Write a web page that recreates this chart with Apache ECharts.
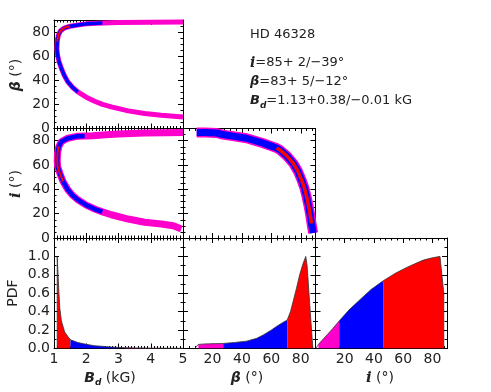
<!DOCTYPE html>
<html><head><meta charset="utf-8">
<script src="https://cdn.jsdelivr.net/npm/echarts/dist/echarts.min.js"></script>
<style>html,body{margin:0;padding:0;background:#fff}#c{width:491px;height:392px}</style>
</head><body><div id="c"></div>
<script>
// ---------------- data ----------------
// beta vs B_d curve (upper branch from B=5 to the tip, then lower branch back to B=5)
const betaBdX = [5.0,4.0,3.0,2.5,2.0,1.74,1.5,1.33,1.2,1.13,1.10,1.09,1.11,1.15,1.23,1.32,1.43,1.58,1.74,2.0,2.26,2.5,2.78,3.3,3.81,4.33,5.0];
const betaBdY = [88.3,88.2,88.0,87.6,86.8,85.8,84.8,83.5,81.0,77.0,72.0,66.0,61.0,56.0,49.7,44.0,38.6,34.0,30.3,26.0,22.6,20.0,17.9,14.6,12.4,11.0,9.6];
const betaBdBlue = [3,18], betaBdRed = [6,10];

// i vs B_d curve
const incBdX = [5.0,4.5,3.8,3.0,2.6,2.2,1.95,1.74,1.43,1.23,1.15,1.11,1.10,1.11,1.18,1.28,1.43,1.58,1.74,2.0,2.26,2.5,2.78,3.3,3.81,4.33,4.7,4.95];
const incBdY = [86.7,86.5,86.3,85.5,84.8,84.0,83.8,83.7,82.0,79.3,75.2,70.0,64.0,59.0,53.3,46.5,39.6,35.0,31.4,27.0,23.8,21.5,19.1,15.6,12.9,11.5,10.0,7.4];
const incBdBlue = [6,21], incBdRed = [10,15];

// i vs beta curve
const incBetaX = [9.3,15,22.9,27,35,43.2,50,54.5,60,63.5,65.8,70.5,74.8,78,80.5,82.5,83.9,85.2,86.2,87.3,88.4];
const incBetaY = [86.7,86.7,86.3,85,83.5,82,79.5,77.9,75.5,74,72.4,67.5,61.5,55,47.8,41,34.2,27,20.5,12,4.1];
const incBetaBlue = [0,20], incBetaRed = [9,19];

// marginal PDFs
const pdfBdX = [1.10,1.10,1.12,1.15,1.18,1.23,1.33,1.43,1.51,1.74,2.0,2.26,2.78,3.2,4.0,5.0];
const pdfBdY = [0,1.0,1.0,0.62,0.44,0.30,0.18,0.13,0.095,0.065,0.045,0.03,0.016,0.009,0.004,0.002];
const pdfBdRed = [0,8], pdfBdBlue = [8,13], pdfBdMag = [13,15];

const pdfBetaX = [8.0,10.4,15,20,27.3,35,43.2,50,54.5,60,63.5,67,70.8,73,74.8,77,79.4,81.5,83.4,84.3,86,88.2];
const pdfBetaY = [0,0.044,0.05,0.052,0.055,0.065,0.08,0.11,0.147,0.2,0.24,0.275,0.31,0.40,0.51,0.65,0.81,0.92,1.0,0.9,0.5,0];
const pdfBetaMag = [1,4], pdfBetaBlue = [4,12], pdfBetaRed = [12,21];

const pdfIncX = [0.3,2.0,8,12,16.2,23,30.4,38,46.3,55,62.4,68,73.8,80,85.2,86.5,87.8,87.8];
const pdfIncY = [0,0.045,0.15,0.22,0.30,0.42,0.53,0.64,0.735,0.82,0.88,0.92,0.96,0.985,1.0,0.8,0.6,0];
const pdfIncMag = [1,4], pdfIncBlue = [4,8], pdfIncRed = [8,17];

// tick labels
const bdTickLabels = ['1','2','3','4','5'];
const angleTickLabelsY = ['0','20','40','60','80'];
const angleTickLabelsX = ['20','40','60','80'];
const pdfTickLabels = ['0.0','0.2','0.4','0.6','0.8','1.0'];

// annotation
const starName = 'HD 46328';
const incText = '=85+ 2/\u221239\u00b0';
const betaText = '=83+ 5/\u221212\u00b0';
const bdText = '=1.13+0.38/\u22120.01 kG';

// ---------------- chart ----------------
const FONT = 'DejaVu Sans';
const TXT = '#222';
const MAG = '#ff00cc', BLUE = '#0000ff', RED = '#ff0000';

const grids = [
  {left:54, top:20, width:129, height:108.5},
  {left:54, top:128.5, width:129, height:109.5},
  {left:183, top:128.5, width:132.5, height:109.5},
  {left:54, top:238, width:129, height:110.5},
  {left:183, top:238, width:132.5, height:110.5},
  {left:315.5, top:238, width:131.5, height:110.5}
];

function axisBase(gi, min, max, interval, minorSplit, position) {
  return {
    type:'value', gridIndex:gi, min:min, max:max, interval:interval, position:position,
    axisLine:{show:true, onZero:false, lineStyle:{color:'#000', width:1}},
    axisTick:{show:true, inside:true, length:5, lineStyle:{color:'#000', width:1}},
    minorTick:{show:true, splitNumber:minorSplit, length:2.5, lineStyle:{color:'#000', width:1}},
    splitLine:{show:false}, minorSplitLine:{show:false},
    axisLabel:{show:false}
  };
}
function withLabels(ax, list, dec) {
  ax.axisLabel = {show:true, fontFamily:FONT, fontSize:14, color:TXT, margin:4,
    formatter: function(v){ const s = dec ? v.toFixed(1) : String(Math.round(v)); return list.indexOf(s) >= 0 ? s : ''; }};
  return ax;
}

// [xmin,xmax,xint,xminor, ymin,ymax,yint,yminor]
const spec = [
  [1,5,1,10, 0,90,20,4],
  [1,5,1,10, 0,90,20,4],
  [0,90,20,5, 0,90,20,4],
  [1,5,1,10, 0,1.2,0.2,2],
  [0,90,20,5, 0,1.2,0.2,2],
  [0,90,20,5, 0,1.2,0.2,2]
];
const xAxes = [], yAxes = [];
spec.forEach(function(s, gi){
  let xa = axisBase(gi, s[0], s[1], s[2], s[3], 'bottom');
  let ya = axisBase(gi, s[4], s[5], s[6], s[7], 'left');
  if (gi === 3) withLabels(xa, bdTickLabels, false);
  if (gi === 4 || gi === 5) withLabels(xa, angleTickLabelsX, false);
  if (gi === 0 || gi === 1) withLabels(ya, angleTickLabelsY, false);
  if (gi === 3) withLabels(ya, pdfTickLabels, true);
  xAxes.push(xa); yAxes.push(ya);
});
spec.forEach(function(s, gi){
  xAxes.push(axisBase(gi, s[0], s[1], s[2], s[3], 'top'));
  yAxes.push(axisBase(gi, s[4], s[5], s[6], s[7], 'right'));
});

function pts(xs, ys, r) { const d = []; for (let k = r[0]; k <= r[1]; k++) d.push([xs[k], ys[k]]); return d; }
function curve(gi, xs, ys, r, color, w) {
  return {type:'line', xAxisIndex:gi, yAxisIndex:gi, data:pts(xs, ys, r), symbol:'none', silent:true,
    lineStyle:{color:color, width:w, cap:'butt', join:'round'}, animation:false};
}
function area(gi, xs, ys, r, color) {
  return {type:'line', xAxisIndex:gi, yAxisIndex:gi, data:pts(xs, ys, r), symbol:'none', silent:true,
    lineStyle:{width:0, color:color}, areaStyle:{color:color, opacity:1}, animation:false};
}
const series = [
  curve(0, betaBdX, betaBdY, [0, betaBdX.length-1], MAG, 5),
  curve(0, betaBdX, betaBdY, betaBdBlue, BLUE, 3.5),
  curve(0, betaBdX, betaBdY, betaBdRed, RED, 2),
  curve(1, incBdX, incBdY, [0, incBdX.length-1], MAG, 7),
  curve(1, incBdX, incBdY, incBdBlue, BLUE, 4.5),
  curve(1, incBdX, incBdY, incBdRed, RED, 2),
  curve(2, incBetaX, incBetaY, [0, incBetaX.length-1], MAG, 10),
  curve(2, incBetaX, incBetaY, incBetaBlue, BLUE, 7),
  curve(2, incBetaX, incBetaY, incBetaRed, RED, 3.5),
  area(3, pdfBdX, pdfBdY, pdfBdRed, RED),
  area(3, pdfBdX, pdfBdY, pdfBdBlue, BLUE),
  area(3, pdfBdX, pdfBdY, pdfBdMag, MAG),
  curve(3, pdfBdX, pdfBdY, [0, pdfBdX.length-1], '#333', 0.8),
  area(4, pdfBetaX, pdfBetaY, pdfBetaMag, MAG),
  area(4, pdfBetaX, pdfBetaY, pdfBetaBlue, BLUE),
  area(4, pdfBetaX, pdfBetaY, pdfBetaRed, RED),
  curve(4, pdfBetaX, pdfBetaY, [0, pdfBetaX.length-1], '#333', 0.8),
  area(5, pdfIncX, pdfIncY, pdfIncMag, MAG),
  area(5, pdfIncX, pdfIncY, pdfIncBlue, BLUE),
  area(5, pdfIncX, pdfIncY, pdfIncRed, RED),
  curve(5, pdfIncX, pdfIncY, [0, pdfIncX.length-1], '#333', 0.8)
];

const rich = {
  g: {fontFamily:FONT, fontWeight:'bold', fontStyle:'italic', fontSize:14, fill:TXT, color:TXT},
  ii: {fontFamily:'DejaVu Serif', fontWeight:'bold', fontStyle:'italic', fontSize:15, fill:TXT, color:TXT},
  sub: {fontFamily:FONT, fontWeight:'bold', fontStyle:'italic', fontSize:9, fill:TXT, color:TXT, padding:[9,0,0,0]},
  t: {fontFamily:FONT, fontSize:14, fill:TXT, color:TXT}
};
function txt(x, y, text, rot, size) {
  const r = JSON.parse(JSON.stringify(rich));
  if (size) { r.t.fontSize = size; r.g.fontSize = size; r.ii.fontSize = size + 1; }
  return {type:'text', x:x, y:y, rotation:rot || 0, silent:true,
    style:{text:text, rich:r, align:'center', verticalAlign:'middle', fontFamily:FONT, fontSize:size || 14, fill:TXT}};
}
function txtL(x, y, text, size) {
  const g = txt(x, y, text, 0, size); g.style.align = 'left'; return g;
}
const graphic = [
  txt(16, 75, '{g|\u03b2}{t| (\u00b0)}', Math.PI/2),
  txt(16, 184, '{ii|i}{t| (\u00b0)}', Math.PI/2),
  txt(13, 293, '{t|PDF}', Math.PI/2),
  txt(110, 378, '{g|B}{sub|d}{t| (kG)}', 0),
  txt(247, 378, '{g|\u03b2}{t| (\u00b0)}', 0),
  txt(380, 378, '{ii|i}{t| (\u00b0)}', 0),
  txtL(250, 35, '{t|' + starName + '}', 13),
  txtL(250, 63, '{ii|i}{t|' + incText + '}', 13),
  txtL(250, 82, '{g|\u03b2}{t|' + betaText + '}', 13),
  txtL(250, 101, '{g|B}{sub|d}{t|' + bdText + '}', 13)
];

const chart = echarts.init(document.getElementById('c'), null, {renderer:'canvas'});
chart.setOption({
  animation:false,
  backgroundColor:'#fff',
  grid: grids.map(function(g){ return Object.assign({containLabel:false, show:false}, g); }),
  xAxis: xAxes, yAxis: yAxes,
  series: series,
  graphic: graphic
});
</script>
</body></html>
